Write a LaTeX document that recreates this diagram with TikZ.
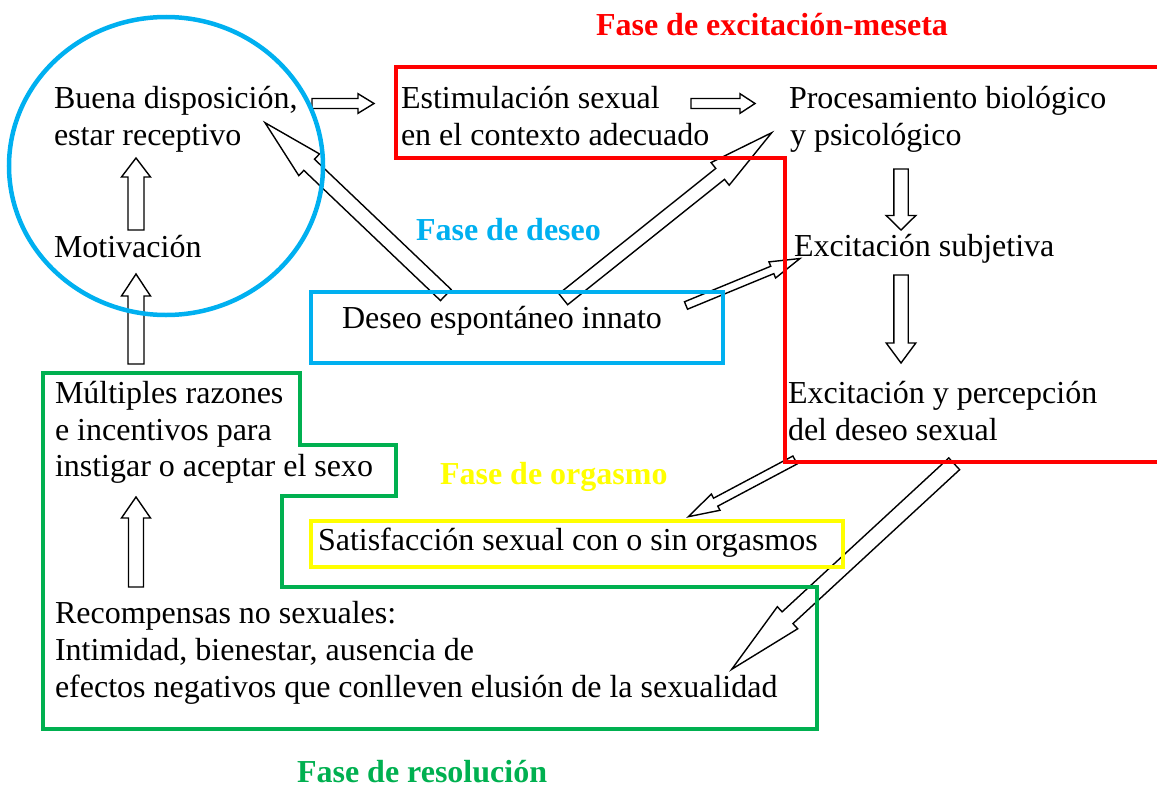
\documentclass[tikz,border=0pt]{standalone}
\usepackage{fontspec}
\setmainfont{Liberation Serif}
\usetikzlibrary{calc}
\definecolor{fred}{RGB}{255,0,0}
\definecolor{fblue}{RGB}{0,176,240}
\definecolor{fgreen}{RGB}{0,176,80}
\definecolor{fyellow}{RGB}{255,255,0}
\tikzset{
  txt/.style={anchor=base west, inner sep=0pt, outer sep=0pt, font=\fontsize{32}{37}\selectfont},
  phase/.style={anchor=base west, inner sep=0pt, outer sep=0pt, font=\fontsize{32}{37}\selectfont\bfseries},
  barrow/.style={draw=black, line width=1.4pt, line join=miter},
  frame/.style={line width=4.5pt, line join=miter},
}
% tail, tip, shaft half width, head half width, head length
\newcommand{\blockarrow}[5]{%
  \coordinate (bac) at ($(#2)!#5!(#1)$);
  \draw[barrow] ($(#1)!#3!90:(#2)$) -- ($(bac)!#3!90:(#2)$) -- ($(bac)!#4!90:(#2)$)
    -- (#2) -- ($(bac)!#4!-90:(#2)$) -- ($(bac)!#3!-90:(#2)$) -- ($(#1)!#3!-90:(#2)$) -- cycle;
}
\begin{document}
\begin{tikzpicture}[x=1pt,y=-1pt]
\useasboundingbox (0,0) rectangle (1157,787);

% ---------- arrow end points ----------
\coordinate (motUpT) at (136,230);   \coordinate (motUpH) at (136,158);
\coordinate (mulUpT) at (136,364);   \coordinate (mulUpH) at (136,274);
\coordinate (recUpT) at (136,587);   \coordinate (recUpH) at (136,497);
\coordinate (bueRT) at (312,103.5);  \coordinate (bueRH) at (374,103.5);
\coordinate (estRT) at (691,103.5);  \coordinate (estRH) at (755,103.5);
\coordinate (proDT) at (901,169);    \coordinate (proDH) at (901,230);
\coordinate (subDT) at (901,275);    \coordinate (subDH) at (901,363);
\coordinate (desAT) at (445.8,295);  \coordinate (desAH) at (265,122.7);
\coordinate (desBT) at (563.3,299.2);\coordinate (desBH) at (771.7,132.7);
\coordinate (desCT) at (686,305.5);  \coordinate (desCH) at (800,258.5);
\coordinate (excDT) at (795,460);    \coordinate (excDH) at (688.3,516.7);
\coordinate (excET) at (954.2,463.8);\coordinate (excEH) at (731.7,669.3);

% ---------- block arrows ----------
\blockarrow{motUpT}{motUpH}{8pt}{14.5pt}{19pt}
\blockarrow{mulUpT}{mulUpH}{8pt}{14.5pt}{22pt}
\blockarrow{recUpT}{recUpH}{7.5pt}{14.5pt}{21pt}
\blockarrow{bueRT}{bueRH}{5pt}{9.8pt}{16pt}
\blockarrow{estRT}{estRH}{5pt}{9.8pt}{15pt}
\blockarrow{proDT}{proDH}{7.2pt}{14.8pt}{14.5pt}
\blockarrow{subDT}{subDH}{7.2pt}{14.8pt}{20pt}
\blockarrow{desAT}{desAH}{7.7pt}{15pt}{61pt}
\blockarrow{desBT}{desBH}{7pt}{14.5pt}{66pt}
\blockarrow{desCT}{desCH}{4pt}{8.7pt}{30pt}
\blockarrow{excDT}{excDH}{4.5pt}{9.2pt}{31pt}
\blockarrow{excET}{excEH}{8pt}{15pt}{76pt}

% ---------- coloured frames ----------
\draw[frame, fblue] (166,166) ellipse [x radius=157, y radius=149];
\draw[frame, fred] (1160,67) -- (396,67) -- (396,158) -- (785,158) -- (785,462) -- (1160,462);
\draw[frame, fblue] (311,292) rectangle (723,363);
\draw[frame, fyellow] (311,521) rectangle (843,567);
\draw[frame, fgreen] (43,373) -- (300,373) -- (300,445) -- (396,445) -- (396,496)
  -- (282,496) -- (282,587) -- (817,587) -- (817,729) -- (43,729) -- cycle;

% ---------- texts ----------
\node[txt] (bue1) at (54,108) {Buena disposición,};
\node[txt] (bue2) at (54,145) {estar receptivo};
\node[txt] (mot) at (54,257) {Motivación};
\node[txt] (est1) at (401,108) {Estimulación sexual};
\node[txt] (est2) at (401,145) {en el contexto adecuado};
\node[txt] (pro1) at (789,108) {Procesamiento biológico};
\node[txt] (pro2) at (790,145) {y psicológico};
\node[txt] (sub) at (794,256) {Excitación subjetiva};
\node[txt] (exc1) at (788,403) {Excitación y percepción};
\node[txt] (exc2) at (788,440) {del deseo sexual};
\node[txt] (des) at (342,328) {Deseo espontáneo innato};
\node[txt] (mul1) at (55,403) {Múltiples razones};
\node[txt] (mul2) at (55,440) {e incentivos para};
\node[txt] (mul3) at (55,476) {instigar o aceptar el sexo};
\node[txt] (sat) at (318,550) {Satisfacción sexual con o sin orgasmos};
\node[txt] (rec1) at (55,623) {Recompensas no sexuales:};
\node[txt] (rec2) at (55,660) {Intimidad, bienestar, ausencia de};
\node[txt] (rec3) at (55,697) {efectos negativos que conlleven elusión de la sexualidad};

\node[phase, text=fred] (phExc) at (596,35) {Fase de excitación-meseta};
\node[phase, text=fblue] (phDes) at (416,240) {Fase de deseo};
\node[phase, text=fyellow] (phOrg) at (440,484) {Fase de orgasmo};
\node[phase, text=fgreen] (phRes) at (297,782) {Fase de resolución};
\end{tikzpicture}
\end{document}
